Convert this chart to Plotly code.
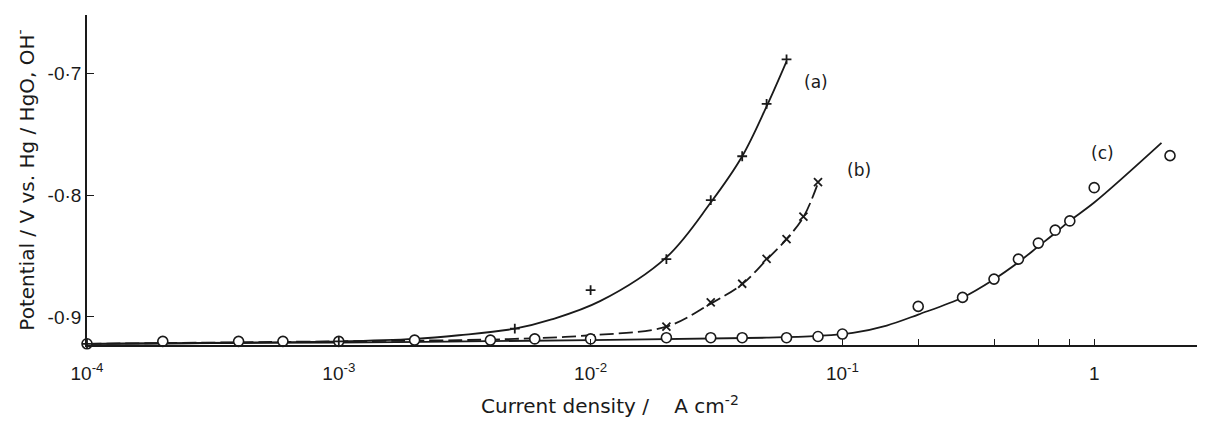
import math
import plotly.graph_objects as go

# ---- data ----
# (a) "+" points
a_x = [1e-4, 1e-3, 0.005, 0.01, 0.02, 0.03, 0.04, 0.05, 0.06]
a_y = [-0.922, -0.920, -0.9096, -0.878, -0.8525, -0.804, -0.768, -0.725, -0.6885]
a_fit_x = [1e-4, 1e-3, 2e-3, 3e-3, 5e-3, 7e-3, 0.0109, 0.02, 0.03, 0.04, 0.05, 0.06]
a_fit_y = [-0.922, -0.920, -0.918, -0.915, -0.9096, -0.902, -0.887, -0.851, -0.806, -0.768, -0.727, -0.690]

# (b) "x" points
b_x = [0.02, 0.03, 0.04, 0.05, 0.06, 0.07, 0.08]
b_y = [-0.908, -0.888, -0.8727, -0.8522, -0.836, -0.8175, -0.7893]
b_fit_x = [1e-4, 1e-3, 3e-3, 5e-3, 0.01, 0.02, 0.03, 0.04, 0.05, 0.06, 0.07, 0.08]
b_fit_y = [-0.922, -0.920, -0.919, -0.918, -0.915, -0.908, -0.889, -0.873, -0.853, -0.836, -0.818, -0.790]

# (c) "o" points
c_x = [1e-4, 2e-4, 4e-4, 6e-4, 1e-3, 2e-3, 4e-3, 6e-3, 0.01, 0.02, 0.03, 0.04, 0.06, 0.08, 0.1,
       0.2, 0.3, 0.4, 0.5, 0.6, 0.7, 0.8, 1.0, 2.0]
c_y = [-0.922, -0.920, -0.920, -0.920, -0.920, -0.919, -0.919, -0.918, -0.918, -0.917, -0.917, -0.917,
       -0.917, -0.916, -0.914,
       -0.8913, -0.8839, -0.8689, -0.8525, -0.8393, -0.8287, -0.8211, -0.7938, -0.7675]
c_fit_x = [1e-4, 1e-3, 1e-2, 0.05, 0.08, 0.11, 0.15, 0.2, 0.3, 0.4, 0.5, 0.6, 0.7, 0.8, 1.0, 1.85]
c_fit_y = [-0.922, -0.921, -0.919, -0.917, -0.9155, -0.913, -0.907, -0.898, -0.884, -0.869, -0.855, -0.842,
           -0.831, -0.821, -0.806, -0.757]

x_tickvals = [1e-4, 1e-3, 1e-2, 1e-1, 1]
x_ticktext = ["10<sup>-4</sup>", "10<sup>-3</sup>", "10<sup>-2</sup>", "10<sup>-1</sup>", "1"]
x_minor_ticks = [0.2, 0.4, 0.6, 0.8]
y_tickvals = [-0.9, -0.8, -0.7]
y_ticktext = ["-0·9", "-0·8", "-0·7"]

labels = ["(a)", "(b)", "(c)"]
label_x = [0.0693, 0.102, 0.955]
label_y = [-0.707, -0.779, -0.765]

x_title = "Current density /    A cm<sup>-2</sup>"
y_title = "Potential / V vs. Hg / HgO, OH<sup>-</sup>"

ink = "#1a1a1a"
font = "DejaVu Sans"
tick_font = "Liberation Sans"

fig = go.Figure()
fig.add_trace(go.Scatter(x=c_fit_x, y=c_fit_y, mode="lines", line=dict(color=ink, width=1.8, shape="spline"),
                         showlegend=False, hoverinfo="skip"))
fig.add_trace(go.Scatter(x=b_fit_x, y=b_fit_y, mode="lines",
                         line=dict(color=ink, width=1.8, shape="spline", dash="14px,5px"),
                         showlegend=False, hoverinfo="skip"))
fig.add_trace(go.Scatter(x=a_fit_x, y=a_fit_y, mode="lines", line=dict(color=ink, width=1.8, shape="spline"),
                         showlegend=False, hoverinfo="skip"))
fig.add_trace(go.Scatter(x=c_x, y=c_y, mode="markers",
                         marker=dict(symbol="circle", size=10, color="white", line=dict(width=1.6, color=ink)),
                         showlegend=False, cliponaxis=False))
fig.add_trace(go.Scatter(x=b_x, y=b_y, mode="markers",
                         marker=dict(symbol="x-thin", size=8, line=dict(width=1.8, color=ink)),
                         showlegend=False, cliponaxis=False))
fig.add_trace(go.Scatter(x=a_x, y=a_y, mode="markers",
                         marker=dict(symbol="cross-thin", size=7, line=dict(width=1.8, color=ink)),
                         showlegend=False, cliponaxis=False))

for t, lx, ly in zip(labels, label_x, label_y):
    fig.add_annotation(x=math.log10(lx), y=ly, xref="x", yref="y", text=t, showarrow=False,
                       xanchor="left", yanchor="middle", font=dict(family=font, size=17, color=ink))

# x-axis title placed as an annotation (offset left of the plot centre, as in the reference)
fig.add_annotation(x=0.468, y=-0.182, xref="paper", yref="paper", text=x_title, showarrow=False,
                   xanchor="center", yanchor="middle", font=dict(family=font, size=20, color=ink))

# page body has an 8px margin: figure is 1197x413 so the plot lands on the reference pixels
fig.update_layout(
    width=1197, height=413,
    margin=dict(l=79, r=0, t=7, b=76),
    paper_bgcolor="white", plot_bgcolor="white",
    font=dict(family=font, color=ink),
)
fig.update_xaxes(
    type="log", range=[-4, 0.44], automargin=False,
    tickvals=x_tickvals, ticktext=x_ticktext,
    ticks="inside", ticklen=6, tickwidth=1.3, tickcolor=ink,
    showline=True, linecolor=ink, linewidth=1.6,
    showgrid=False, zeroline=False,
    tickfont=dict(family=tick_font, size=19, color=ink),
    ticklabelstandoff=10,
    minor=dict(tickvals=x_minor_ticks, ticks="inside", ticklen=6, tickwidth=1.3, tickcolor=ink),
)
fig.update_yaxes(
    range=[-0.923, -0.652], automargin=False,
    tickvals=y_tickvals, ticktext=y_ticktext,
    ticks="inside", ticklen=7, tickwidth=1.3, tickcolor=ink,
    showline=True, linecolor=ink, linewidth=1.6,
    showgrid=False, zeroline=False,
    tickfont=dict(family=tick_font, size=19, color=ink),
    title=dict(text=y_title, font=dict(family=font, size=20, color=ink), standoff=8),
)

fig.write_html("out.html")
